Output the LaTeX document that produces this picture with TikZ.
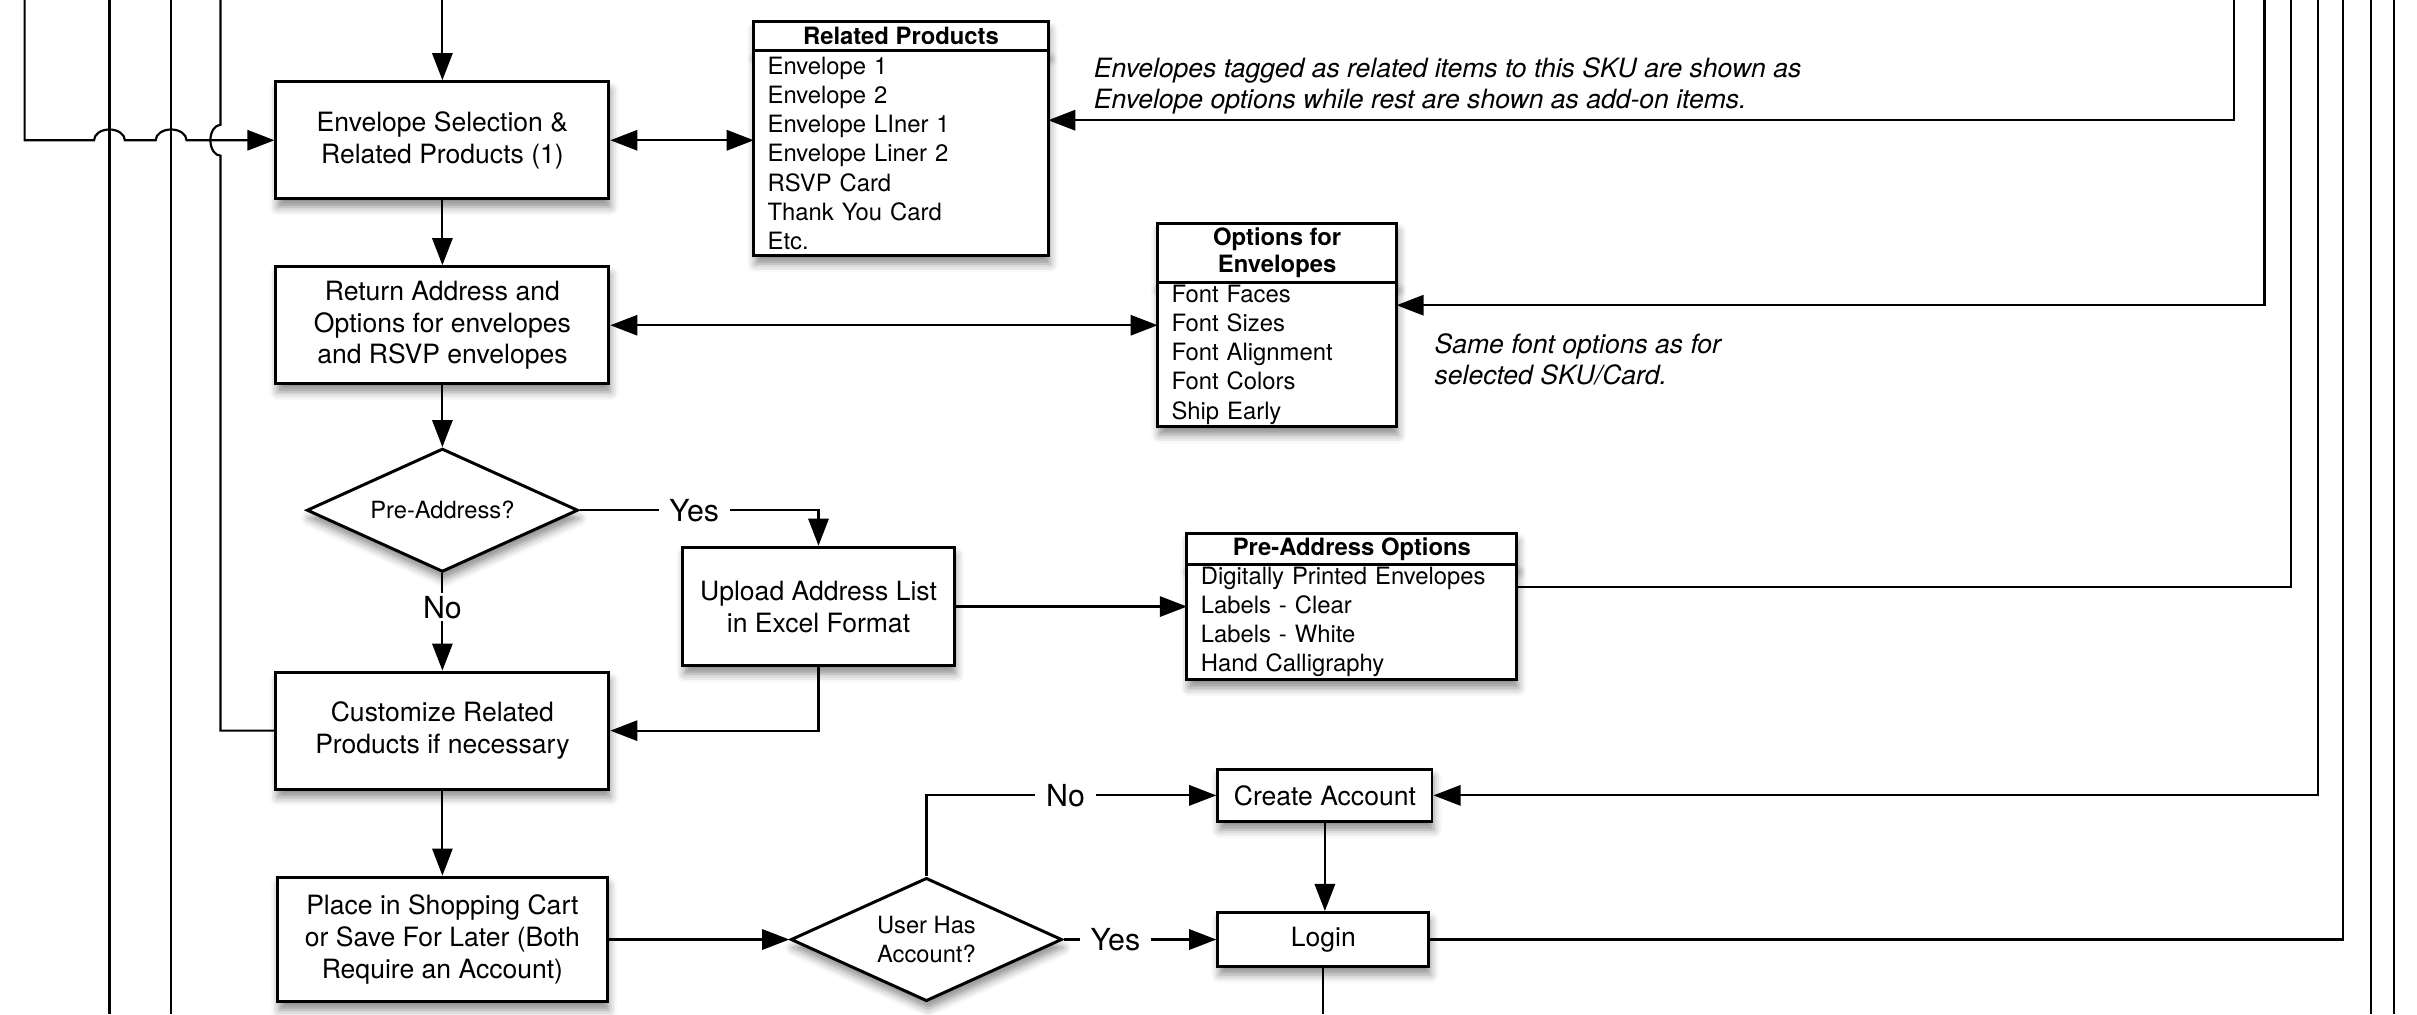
\documentclass[tikz,border=0pt]{standalone}
\usepackage{fontspec}
\setmainfont{TeX Gyre Heros}
\usetikzlibrary{arrows.meta,positioning,shapes.geometric,shadows.blur}
\tikzset{
  dropshade/.style={blur shadow={shadow xshift=0.6pt,shadow yshift=-3pt,shadow blur radius=3pt,shadow opacity=45}},
  procbox/.style={draw,line width=1.1pt,fill=white,dropshade,align=center,inner sep=0pt,
    font=\fontsize{9.8}{11.8}\selectfont},
  decision/.style={diamond,aspect=2.2,draw,line width=1.1pt,fill=white,dropshade,align=center,inner sep=0pt,
    minimum width=3.52cm,minimum height=1.6cm,font=\fontsize{8.75}{10.5}\selectfont},
  tblhead/.style={draw,line width=1.1pt,fill=white,dropshade,align=center,inner sep=0pt,outer sep=0pt,
    font=\bfseries\fontsize{8.8}{10.2}\selectfont},
  tblbody/.style={draw,line width=1.1pt,fill=white,dropshade,align=left,inner xsep=0.18cm,inner ysep=0pt,
    outer sep=0pt,font=\fontsize{8.8}{10.8}\selectfont},
  annot/.style={align=left,inner sep=0pt,anchor=west,font=\itshape\fontsize{9.8}{11.4}\selectfont}
}
\begin{document}
\begin{tikzpicture}[x=0.02cm,y=-0.02cm,line width=0.8pt,
  arr/.style={-{Triangle[length=10pt,width=7.5pt]}},
  dblarr/.style={{Triangle[length=10pt,width=7.5pt]}-{Triangle[length=10pt,width=7.5pt]}},
  lbl/.style={fill=white,inner xsep=4pt,inner ysep=1pt,font=\fontsize{11.2}{13}\selectfont}]
\useasboundingbox (0,0) rectangle (1568,658);

% lines that only pass through
\foreach \x in {71,111,1538,1553} \draw (\x,0) -- (\x,658);
\coordinate (intop) at (287,0);
\coordinate (lefttop) at (16,0);
\coordinate (custtop) at (143,0);
\coordinate (rt1) at (1449,0);
\coordinate (rt2) at (1469,0);
\coordinate (rt3) at (1486,0);
\coordinate (rt4) at (1504,0);
\coordinate (rt5) at (1520,0);
\coordinate (outbot) at (858.5,658);

% main column
\node[procbox,minimum width=4.32cm,minimum height=1.52cm] (envsel) at (287,91) {Envelope Selection \&\\Related Products (1)};
\node[procbox,minimum width=4.32cm,minimum height=1.52cm] (retaddr) at (287,211) {Return Address and\\Options for envelopes\\and RSVP envelopes};
\node[decision] (preaddr) at (287,331) {Pre-Address?};
\node[procbox,minimum width=3.52cm,minimum height=1.54cm] (upload) at (531,393.5) {Upload Address List\\in Excel Format};
\node[procbox,minimum width=4.32cm,minimum height=1.52cm] (custom) at (287,474) {Customize Related\\Products if necessary};
\node[procbox,minimum width=4.28cm,minimum height=1.62cm] (place) at (287,609.5) {Place in Shopping Cart\\or Save For Later (Both\\Require an Account)};
\node[decision] (useracc) at (601,609.5) {User Has\\Account?};
\node[procbox,minimum width=2.78cm,minimum height=0.68cm] (newacc) at (859.5,516) {Create Account};
\node[procbox,minimum width=2.74cm,minimum height=0.70cm] (login) at (858.5,609.5) {Login};

% option tables
\node[tblhead,minimum width=3.82cm,minimum height=0.38cm] (relhead) at (584.5,23.5) {Related Products};
\node[tblbody,below=0pt of relhead,text width=3.46cm,minimum height=2.66cm] (relbody)
  {Envelope 1\\Envelope 2\\Envelope LIner 1\\Envelope Liner 2\\RSVP Card\\Thank You Card\\Etc.};
\node[tblhead,minimum width=3.10cm,minimum height=0.76cm] (opthead) at (828.5,164) {Options for\\Envelopes};
\node[tblbody,below=0pt of opthead,text width=2.74cm,minimum height=1.88cm] (optbody)
  {Font Faces\\Font Sizes\\Font Alignment\\Font Colors\\Ship Early};
\node[tblhead,minimum width=4.28cm,minimum height=0.40cm] (prehead) at (877,356) {Pre-Address Options};
\node[tblbody,below=0pt of prehead,text width=3.92cm,minimum height=1.50cm] (prebody)
  {Digitally Printed Envelopes\\Labels - Clear\\Labels - White\\Hand Calligraphy};

\node[annot] (relnote) at (709,56) {Envelopes tagged as related items to this SKU are shown as\\Envelope options while rest are shown as add-on items.};
\node[annot] (optnote) at (930,233) {Same font options as for\\selected SKU/Card.};

% connectors
\draw[arr] (intop) -- (envsel.north);
\draw[arr] (lefttop) |- (61,91) arc[start angle=180,end angle=0,x radius=0.2cm,y radius=0.14cm]
  -- (101,91) arc[start angle=180,end angle=0,x radius=0.2cm,y radius=0.14cm] -- (envsel.west);
\draw (custom.west) -| (143,101) arc[start angle=-90,end angle=-270,x radius=0.13cm,y radius=0.2cm] -- (custtop);
\draw[arr] (envsel.south) -- (retaddr.north);
\draw[dblarr] (envsel.east) -- (envsel.east -| relbody.west);
\coordinate (rt1b) at (1449,78);
\draw[arr] (rt1) -- (rt1b) -- (rt1b -| relbody.east);
\draw[dblarr] (retaddr.east) -- (retaddr.east -| optbody.west);
\coordinate (rt2b) at (1469,198);
\draw[arr] (rt2) -- (rt2b) -- (rt2b -| optbody.east);
\draw[arr] (retaddr.south) -- (preaddr.north);
\draw[arr] (preaddr.east) -| node[lbl,pos=0.24]{Yes} (upload.north);
\draw[arr] (preaddr.south) -- node[lbl,pos=0.35]{No} (custom.north);
\draw[arr] (upload.east) -- (upload.east -| prebody.west);
\draw[arr] (upload.south) |- (custom.east);
\coordinate (rt3b) at (1486,381);
\draw (rt3b -| prebody.east) -- (rt3b) -- (rt3);
\draw[arr] (custom.south) -- (place.north);
\draw[arr] (place.east) -- (useracc.west);
\draw[arr] (useracc.north) |- node[lbl,pos=0.74]{No} (newacc.west);
\draw[arr] (useracc.east) -- node[lbl,pos=0.34]{Yes} (login.west);
\draw[arr] (newacc.south) -- (newacc.south |- login.north);
\draw[arr] (rt4) |- (newacc.east);
\draw (login.east) -| (rt5);
\draw (login.south) -- (outbot);
\end{tikzpicture}
\end{document}
